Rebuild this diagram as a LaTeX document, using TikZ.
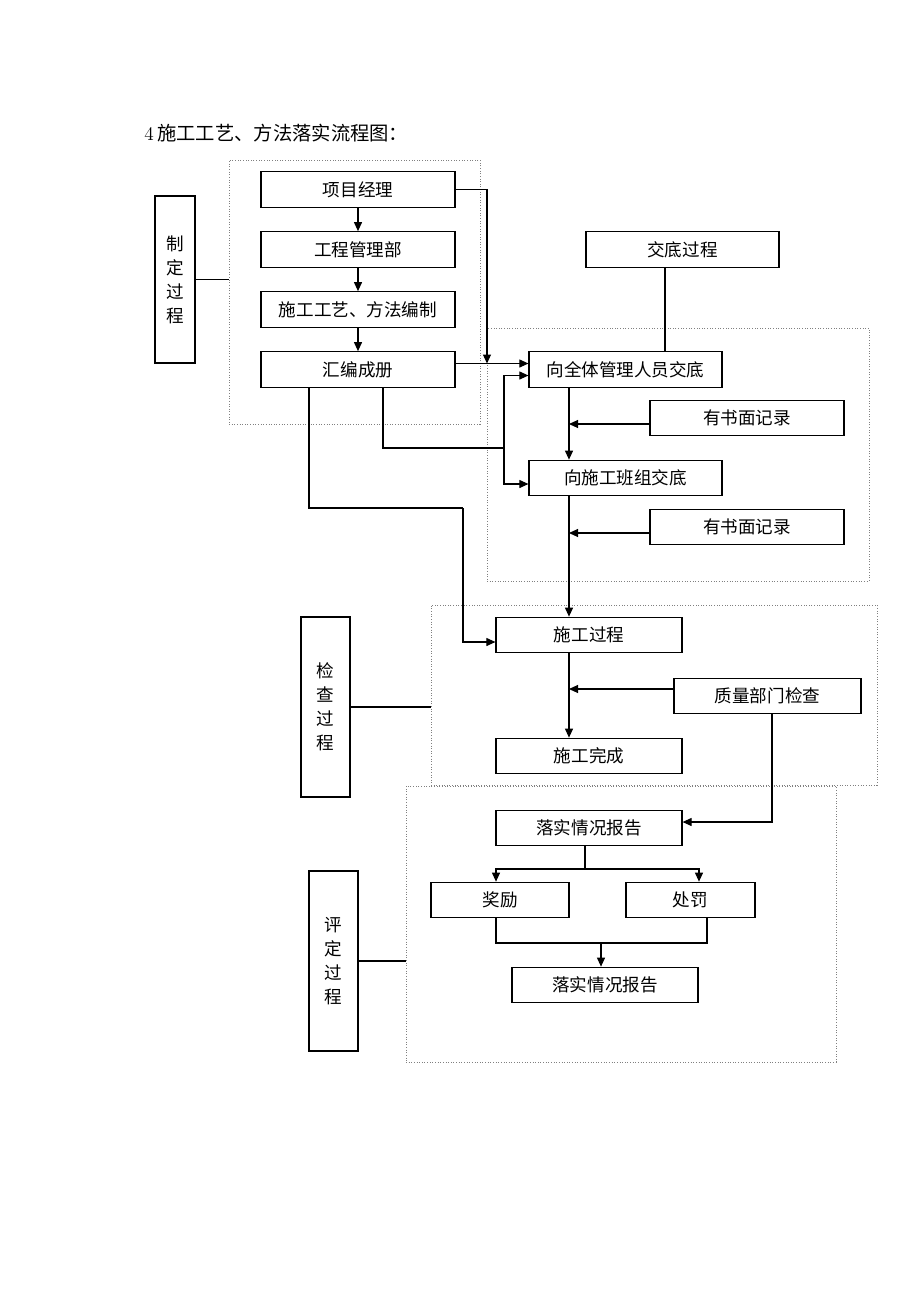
\documentclass[tikz,border=0pt]{standalone}
\usepackage{fontspec}
\newfontfamily\cjk{Noto Sans CJK SC}
\usetikzlibrary{arrows.meta}

\begin{document}
\begin{tikzpicture}[x=0.02cm,y=-0.02cm,
		box/.style={draw,line width=0.7pt,minimum height=0.71cm,inner sep=0pt,font=\cjk\fontsize{10}{12}\selectfont},
		vbox/.style={draw,line width=0.7pt,inner sep=0pt,align=center,font=\cjk\fontsize{10}{13.6}\selectfont},
		frame/.style={draw=gray,densely dotted,line width=0.5pt,inner sep=0pt},
		arr/.style={-{Triangle[length=1.8mm,width=1.6mm]}},
		line width=0.6pt]
		\useasboundingbox (0,0) rectangle (920,1302);
		\node[anchor=west,font=\fontsize{11}{13}\selectfont] (title) at (138,133) {4\,{\cjk 施工工艺、方法落实流程图：}};
		% frames
		\node[frame,minimum width=5.02cm,minimum height=5.28cm] (f1) at (354.5,292) {};
		\node[frame,minimum width=7.64cm,minimum height=5.06cm] (f2) at (678,454.5) {};
		\node[frame,minimum width=8.92cm,minimum height=3.6cm] (f3) at (654,695) {};
		\node[frame,minimum width=8.6cm,minimum height=5.52cm] (f4) at (621,924) {};
		% boxes
		\node[box,minimum width=3.88cm] (pm) at (358,189.5) {项目经理};
		\node[box,minimum width=3.88cm] (gc) at (358,249.5) {工程管理部};
		\node[box,minimum width=3.88cm] (bz) at (358,309.5) {施工工艺、方法编制};
		\node[box,minimum width=3.88cm] (hb) at (358,369.5) {汇编成册};
		\node[vbox,minimum width=0.8cm,minimum height=3.34cm] (zd) at (175,279.5) {制\\定\\过\\程};
		\node[box,minimum width=3.86cm] (jdgc) at (682.5,249.5) {交底过程};
		\node[box,minimum width=3.86cm] (qt) at (625.5,369.5) {向全体管理人员交底};
		\node[box,minimum width=3.88cm] (jl1) at (747,418) {有书面记录};
		\node[box,minimum width=3.86cm] (bzjd) at (625.5,478) {向施工班组交底};
		\node[box,minimum width=3.88cm] (jl2) at (747,527) {有书面记录};
		\node[box,minimum width=3.72cm] (sg) at (589,635) {施工过程};
		\node[box,minimum width=3.74cm] (zl) at (767.5,696) {质量部门检查};
		\node[box,minimum width=3.72cm] (wc) at (589,756) {施工完成};
		\node[vbox,minimum width=0.98cm,minimum height=3.6cm] (jc) at (325.5,707) {检\\查\\过\\程};
		\node[box,minimum width=3.72cm] (lb1) at (589,828) {落实情况报告};
		\node[box,minimum width=2.76cm] (jli) at (500,900) {奖励};
		\node[box,minimum width=2.58cm] (cf) at (690.5,900) {处罚};
		\node[box,minimum width=3.72cm] (lb2) at (605,985) {落实情况报告};
		\node[vbox,minimum width=0.98cm,minimum height=3.6cm] (pd) at (333.5,961) {评\\定\\过\\程};
		% bend points
		\coordinate (k1) at (487,0);
		\coordinate (k2) at (504,448);
		\coordinate (k3) at (383,0);
		\coordinate (k4) at (309,0);
		\coordinate (k5) at (463,508);
		\coordinate (k6) at (665,0);
		\coordinate (m) at (569,0);
		\coordinate (k7) at (772,0);
		\coordinate (s1) at (585,869);
		\coordinate (s2) at (601,943);
		% process chain
		\draw[arr] (pm) -- (gc);
		\draw[arr] (gc) -- (bz);
		\draw[arr] (bz) -- (hb);
		\draw (zd.east) -- (zd.east -| f1.west);
		\draw (jc.east) -- (jc.east -| f3.west);
		\draw (pd.east) -- (pd.east -| f4.west);
		\draw[arr] (pm.east) -| ([yshift=0.12cm]hb.east -| k1);
		\draw[arr] ([yshift=0.12cm]hb.east) -- ([yshift=0.12cm]qt.west);
		\draw (hb.south -| k3) |- (k2);
		\draw[arr] (k2) |- ([yshift=-0.12cm]qt.west);
		\draw[arr] (k2) |- ([yshift=-0.12cm]bzjd.west);
		\draw (hb.south -| k4) |- (k5);
		\draw[arr] (k5) |- ([yshift=-0.14cm]sg.west);
		\draw (jdgc.south -| k6) -- (qt.north -| k6);
		\draw[arr] (qt.south -| m) -- (bzjd.north -| m);
		\draw[arr] ([yshift=-0.12cm]jl1.west) -- ([yshift=-0.12cm]jl1.west -| m);
		\draw[arr] (bzjd.south -| m) -- (sg.north -| m);
		\draw[arr] ([yshift=-0.12cm]jl2.west) -- ([yshift=-0.12cm]jl2.west -| m);
		\draw[arr] (sg.south -| m) -- (wc.north -| m);
		\draw[arr] ([yshift=0.14cm]zl.west) -- ([yshift=0.14cm]zl.west -| m);
		\draw[arr] (zl.south -| k7) |- ([yshift=0.12cm]lb1.east);
		\draw (lb1.south -| s1) -- (s1);
		\draw[arr] (s1) -| ([xshift=-0.08cm]jli.north);
		\draw[arr] (s1) -| ([xshift=0.17cm]cf.north);
		\draw ([xshift=-0.08cm]jli.south) |- (s2) -| ([xshift=0.33cm]cf.south);
		\draw[arr] (s2) -- (lb2.north -| s2);
	\end{tikzpicture}
\end{document}
